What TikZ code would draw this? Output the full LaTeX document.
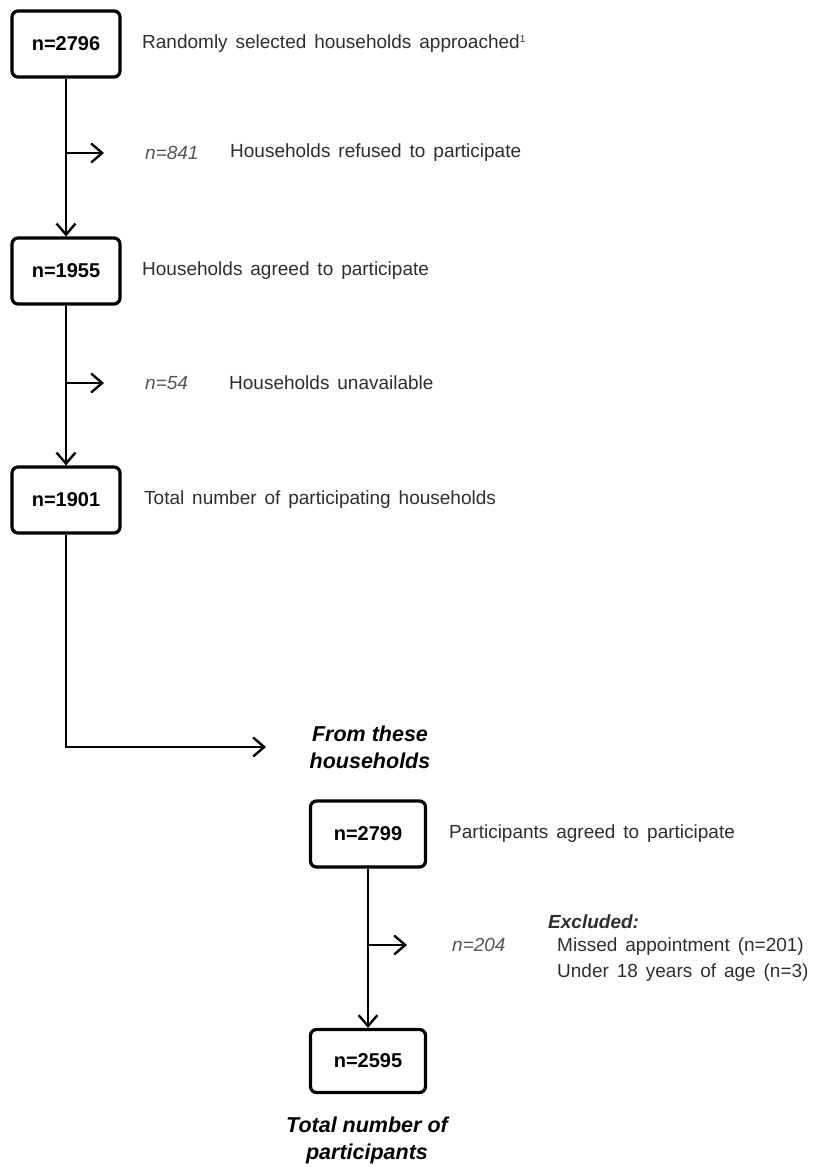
\documentclass[tikz,border=0pt]{standalone}
\usepackage{fontspec}
\setmainfont{Liberation Sans}
\newfontfamily\widefont{Liberation Sans}[WordSpace=1.5]
\usepackage{xcolor}
\usepackage{tikz}
\usetikzlibrary{arrows.meta, positioning}
\definecolor{txtgray}{HTML}{2E2E2E}
\definecolor{ngray}{HTML}{555555}
\tikzset{
  box/.style={rectangle, draw, line width=3.2pt, rounded corners=6pt, minimum height=66pt, minimum width=108pt, align=center, font=\fontsize{20}{24}\selectfont\bfseries},
  lbl/.style={anchor=west, inner sep=0pt, text=txtgray, font=\widefont\fontsize{19}{22}\selectfont},
  nlbl/.style={anchor=west, inner sep=0pt, text=ngray, font=\fontsize{19}{22}\selectfont\itshape},
  note/.style={align=center, inner sep=0pt, font=\fontsize{21.5}{27}\selectfont\bfseries\itshape},
  arrow/.style={-{Straight Barb[length=11pt, width=19pt, line width=2.4pt]}, line width=2.4pt},
}

\begin{document}
\begin{tikzpicture}[x=1pt, y=-1pt]
    \useasboundingbox (0,0) rectangle (828,1167);
    % households
    \node[box] (hh1) at (66,44) {n=2796};
    \node[box] (hh2) at (66,271) {n=1955};
    \node[box] (hh3) at (66,500) {n=1901};
    \node[lbl] (hh1txt) at (142,44) {Randomly selected households approached\textsuperscript{\fontsize{10}{10}\selectfont 1}};
    \node[lbl] (hh2txt) at (142,271) {Households agreed to participate};
    \node[lbl] (hh3txt) at (144,500) {Total number of participating households};
    \node[nlbl] (refn) at (145,153) {n=841};
    \node[lbl] (reftxt) at (230,153) {Households refused to participate};
    \node[nlbl] (unavn) at (145,383) {n=54};
    \node[lbl] (unavtxt) at (229,383) {Households unavailable};
    \coordinate (ref) at (66,153);
    \coordinate (refend) at (104,153);
    \coordinate (unav) at (66,383);
    \coordinate (unavend) at (104,383);
    \draw[arrow] (hh1) -- (hh2);
    \draw[arrow] (hh2) -- (hh3);
    \draw[arrow] (ref) -- (refend);
    \draw[arrow] (unav) -- (unavend);
    % from these households
    \coordinate (fromend) at (266,747);
    \draw[arrow] (hh3.south) |- (fromend);
    \node[note] (from) at (370,747) {From these\\households};
    % participants
    \node[box, minimum width=115pt] (pp1) at (368,834) {n=2799};
    \node[box, minimum width=115pt, minimum height=63pt] (pp2) at (368,1061) {n=2595};
    \node[lbl] (pp1txt) at (449,834) {Participants agreed to participate};
    \node[nlbl] (excn) at (452,945) {n=204};
    \node[lbl, font=\fontsize{19}{22}\selectfont\bfseries\itshape] (exc) at (548,922) {Excluded:};
    \node[lbl, align=left, font=\widefont\fontsize{19}{26}\selectfont] (exctxt) at (557,960) {Missed appointment (n=201)\\Under 18 years of age (n=3)};
    \coordinate (exca) at (368,945);
    \coordinate (excend) at (407,945);
    \draw[arrow] (pp1) -- (pp2);
    \draw[arrow] (exca) -- (excend);
    \node[note] (total) at (367,1140) {Total number of\\participants};
  \end{tikzpicture}
\end{document}
